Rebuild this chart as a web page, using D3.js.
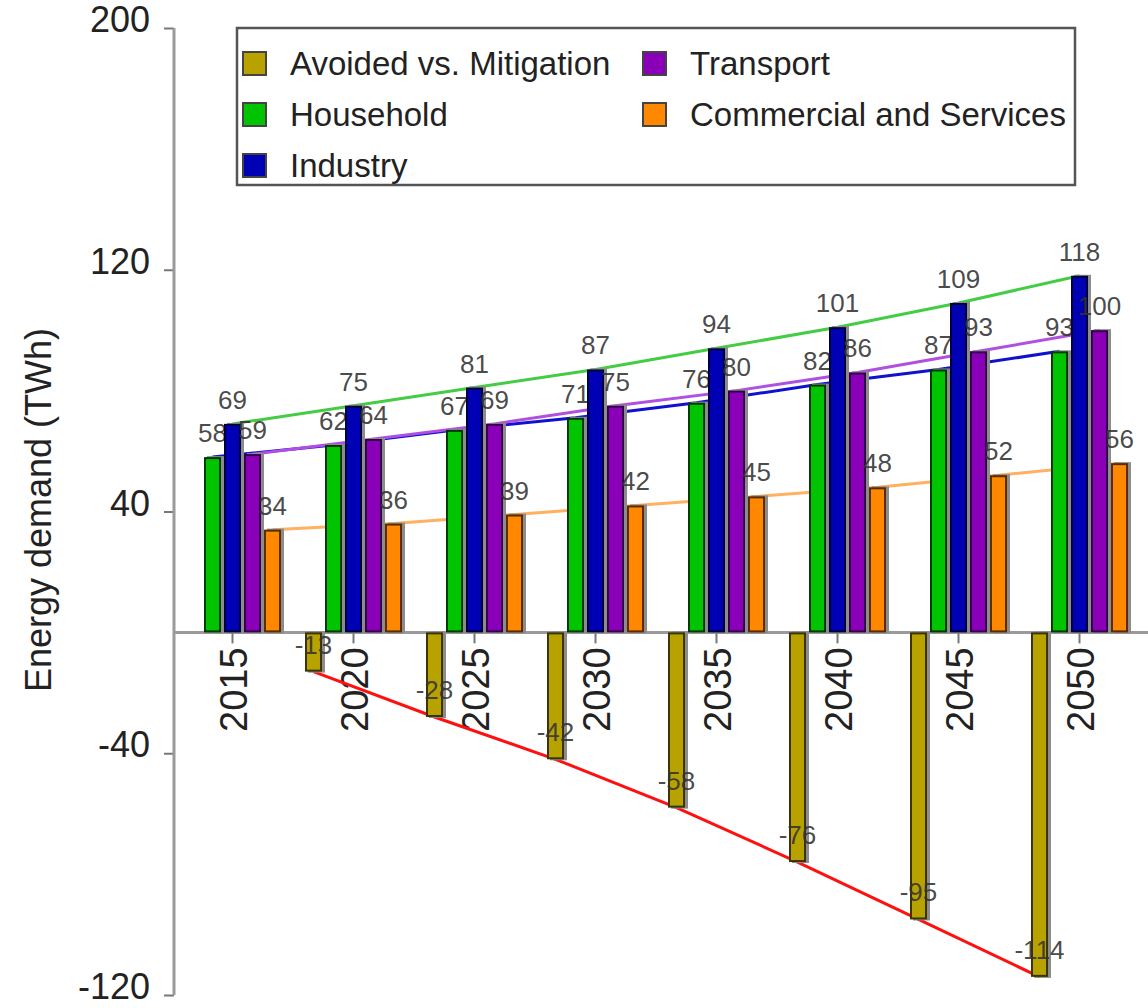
<!DOCTYPE html>
<html>
<head>
<meta charset="utf-8">
<script src="https://cdn.jsdelivr.net/npm/d3@7"></script>
<style>
  body { margin: 0; background: #fff; }
  svg { display: block; font-family: "Liberation Sans", Arial, sans-serif; }
</style>
</head>
<body>
<svg width="1148" height="1008"></svg>
<script>
var years = ["2015", "2020", "2025", "2030", "2035", "2040", "2045", "2050"];
var avoided = [null, -13, -28, -42, -58, -76, -95, -114];
var household = [58, 62, 67, 71, 76, 82, 87, 93];
var industry = [69, 75, 81, 87, 94, 101, 109, 118];
var transport = [59, 64, 69, 75, 80, 86, 93, 100];
var commercial = [34, 36, 39, 42, 45, 48, 52, 56];
var yTicks = [-120, -40, 40, 120, 200];

// drawing order = slot order inside a group
var series = [
  {key: "Avoided vs. Mitigation", values: avoided, fill: "#b8a200", stroke: "#3c3300", line: "#ff1010"},
  {key: "Household", values: household, fill: "#00c400", stroke: "#003a00", line: "#1010d0"},
  {key: "Industry", values: industry, fill: "#0000b4", stroke: "#00003c", line: "#44cc44"},
  {key: "Transport", values: transport, fill: "#8a00b8", stroke: "#34004a", line: "#b050e0"},
  {key: "Commercial and Services", values: commercial, fill: "#ff8800", stroke: "#5a2c00", line: "#ffb060"}
];
// legend layout follows the picture (two columns)
var legendOrder = ["Avoided vs. Mitigation", "Transport", "Household", "Commercial and Services", "Industry"];

var svg = d3.select("svg");
var x = d3.scaleBand().domain(years).range([172, 1140]).padding(0);
var xSub = d3.scaleBand().domain(series.map(function(s) { return s.key; }))
  .range([-50, 50]).paddingInner(0.15).paddingOuter(0.075);
var y = d3.scaleLinear().domain([-120, 200]).range([995, 28]);

function cx(i, key) {
  return x(years[i]) + x.bandwidth() / 2 + xSub(key) + xSub.bandwidth() / 2;
}

// y axis
var yAxis = svg.append("g")
  .attr("transform", "translate(174,0)")
  .call(d3.axisLeft(y).tickValues(yTicks).tickSize(10).tickSizeOuter(0).tickPadding(14)
    .tickFormat(function(d) { return String(d); }));
yAxis.select(".domain").remove();
yAxis.selectAll(".tick line").attr("stroke", "#777").attr("stroke-width", 2);
yAxis.selectAll(".tick text").attr("font-size", 36).attr("fill", "#222").attr("dy", "0.1em")
  .attr("font-family", "Liberation Sans, Arial, sans-serif");
svg.append("line")
  .attr("x1", 174).attr("x2", 174).attr("y1", y(200)).attr("y2", y(-120))
  .attr("stroke", "#9a9a9a").attr("stroke-width", 3);

svg.append("text")
  .attr("transform", "translate(51," + 510 + ") rotate(-90)")
  .attr("text-anchor", "middle")
  .attr("font-size", 36)
  .attr("fill", "#222")
  .text("Energy demand (TWh)");

// baseline and category ticks
svg.append("line")
  .attr("x1", 174).attr("x2", 1148).attr("y1", y(0)).attr("y2", y(0))
  .attr("stroke", "#9a9a9a").attr("stroke-width", 3);
svg.selectAll(".xtick").data(years).enter().append("line")
  .attr("x1", function(d) { return x(d) + x.bandwidth() / 2; })
  .attr("x2", function(d) { return x(d) + x.bandwidth() / 2; })
  .attr("y1", y(0)).attr("y2", y(0) + 11)
  .attr("stroke", "#777").attr("stroke-width", 2);
svg.selectAll(".xlab").data(years).enter().append("text")
  .attr("transform", function(d) {
    return "translate(" + (x(d) + x.bandwidth() / 2 + 14) + "," + (y(0) + 15) + ") rotate(-90)";
  })
  .attr("text-anchor", "end")
  .attr("font-size", 38)
  .attr("fill", "#222")
  .text(function(d) { return d; });

// lines through bar ends, drawn behind the bars
series.forEach(function(s) {
  var line = d3.line()
    .defined(function(d) { return d != null; })
    .x(function(d, i) { return cx(i, s.key); })
    .y(function(d) { return y(d); });
  svg.append("path")
    .attr("d", line(s.values))
    .attr("fill", "none")
    .attr("stroke", s.line)
    .attr("stroke-width", 3);
});

// bars and value labels, series by series
series.forEach(function(s) {
  var g = svg.append("g");
  var pts = s.values.map(function(v, i) { return {v: v, i: i}; })
    .filter(function(d) { return d.v != null; });
  var w = xSub.bandwidth();
  g.selectAll(".shadow").data(pts).enter().append("rect")
    .attr("x", function(d) { return cx(d.i, s.key) - w / 2 + 3; })
    .attr("y", function(d) { return Math.min(y(d.v), y(0)) - 1; })
    .attr("width", w)
    .attr("height", function(d) { return Math.abs(y(d.v) - y(0)) + 2; })
    .attr("fill", "#8c8c8c");
  g.selectAll(".bar").data(pts).enter().append("rect")
    .attr("x", function(d) { return cx(d.i, s.key) - w / 2 + 1; })
    .attr("y", function(d) { return Math.min(y(d.v), y(0)) + 1; })
    .attr("width", w - 2)
    .attr("height", function(d) { return Math.abs(y(d.v) - y(0)) - 2; })
    .attr("fill", s.fill)
    .attr("stroke", s.stroke)
    .attr("stroke-width", 2);
  g.selectAll(".lab").data(pts).enter().append("text")
    .attr("x", function(d) { return cx(d.i, s.key); })
    .attr("y", function(d) { return d.v >= 0 ? y(d.v) - 15 : y(d.v) - 18; })
    .attr("text-anchor", "middle")
    .attr("font-size", 26)
    .attr("fill", "#333")
    .attr("fill-opacity", 0.9)
    .text(function(d) { return String(d.v); });
});

// legend
var lg = svg.append("g");
lg.append("rect")
  .attr("x", 237).attr("y", 28).attr("width", 838).attr("height", 157)
  .attr("fill", "#fff").attr("stroke", "#555").attr("stroke-width", 2.5);
legendOrder.forEach(function(k, j) {
  var s = series.filter(function(d) { return d.key === k; })[0];
  var col = j % 2, row = Math.floor(j / 2);
  var lx = 243 + col * 400, ly = 63 + row * 51;
  lg.append("rect")
    .attr("x", lx).attr("y", ly - 11).attr("width", 23).attr("height", 23)
    .attr("fill", s.fill).attr("stroke", "#444").attr("stroke-width", 2);
  lg.append("text")
    .attr("x", lx + 47).attr("y", ly + 12)
    .attr("font-size", 33)
    .attr("fill", "#222")
    .text(k);
});
</script>
</body>
</html>
